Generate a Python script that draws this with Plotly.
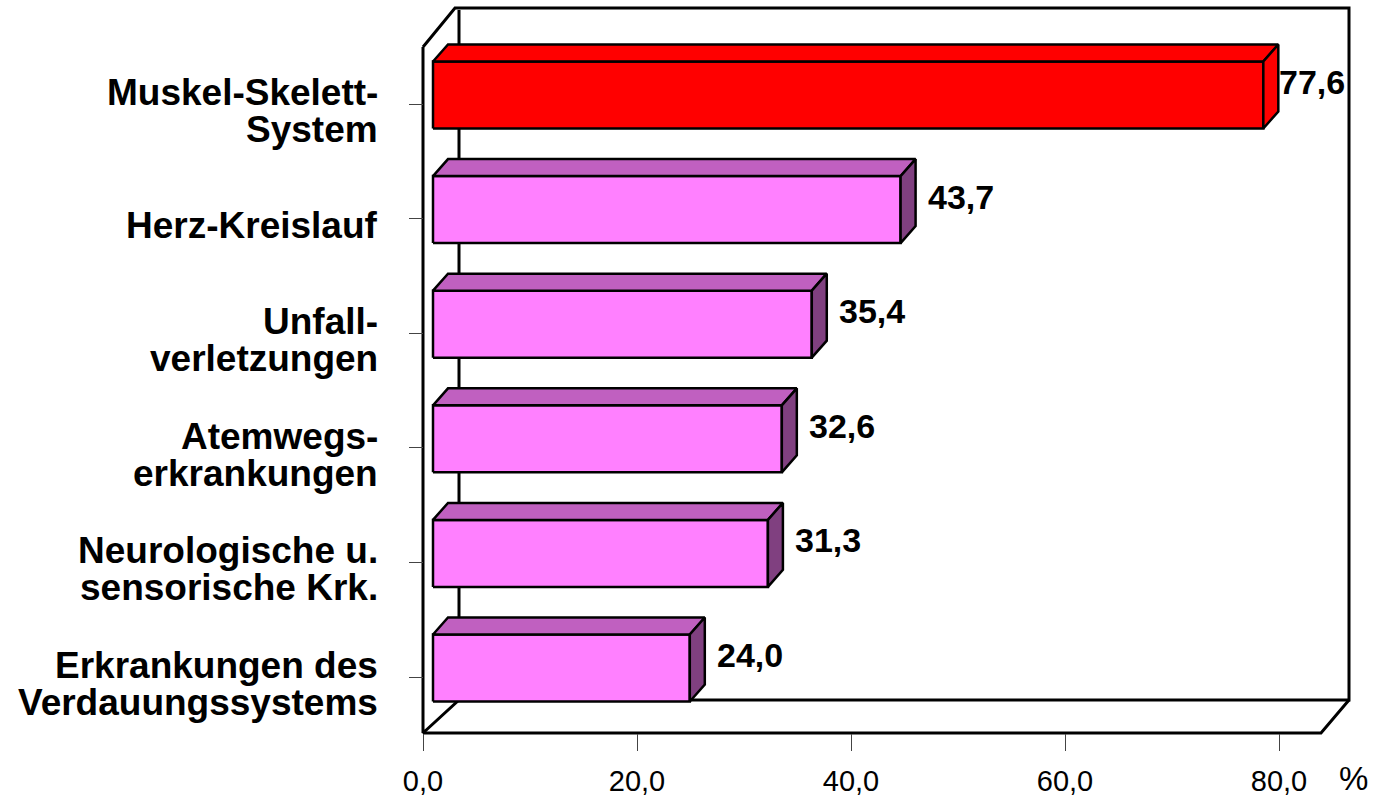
import plotly.graph_objects as go

# ---------------- data ----------------
categories = [
    ["Erkrankungen des", "Verdauungssystems"],
    ["Neurologische u.", "sensorische Krk."],
    ["Atemwegs-", "erkrankungen"],
    ["Unfall-", "verletzungen"],
    ["Herz-Kreislauf"],
    ["Muskel-Skelett-", "System"],
]
values = [24.0, 31.3, 32.6, 35.4, 43.7, 77.6]
highlight = [False, False, False, False, False, True]
x_ticks = [0, 20, 40, 60, 80]
unit_label = "%"

# ---------------- layout geometry ----------------
W, H = 1389, 797
L, R, T, B = 400, 9, 0, 47
PW, PH = W - L - R, H - T - B
SX = 10.7        # px per % unit
X0PX = 423       # px position of value 0 (front plane)
SY = 114.6       # px per category step
Y0PX = 677       # px position of first category tick

def px2x(px):
    return (px - X0PX) / SX

def px2y(py):
    return (Y0PX - py) / SY

def xpaper(px):
    return (px - L) / PW

def ypaper(py):
    return (T + PH - py) / PH

xrange_ = [px2x(L), px2x(L + PW)]
yrange_ = [px2y(T + PH), px2y(T)]

# bar geometry (pixels)
BAR_DX = 10      # front face shift right
BAR_DY = 9       # front face shift up
BAR_HALF = 33.5  # half height of front face
DEP_X, DEP_Y = 15, 17  # bar depth offset

colors_pink = dict(front="#FF80FF", top="#C060C0", side="#804080")
colors_red = dict(front="#FF0000", top="#FF0000", side="#FF0000")

fig = go.Figure()

def add_line(pts, width=3, color="black"):
    fig.add_trace(go.Scatter(
        x=[px2x(p[0]) for p in pts], y=[px2y(p[1]) for p in pts],
        mode="lines", line=dict(color=color, width=width),
        hoverinfo="skip", showlegend=False))

# frame (3D box)
FL, FR = (423, 733), (1321, 733)
BL, BR = (459, 700), (1349, 700)
BLT, BRT = (459, 10), (1349, 8)
FLT = (423, 47)
add_line([BL, BLT])
add_line([FLT, (455, 8), BRT, BR, BL, FL, FLT])
add_line([FL, FR, BR])

def add_poly(xs, ys, fill):
    fig.add_trace(go.Scatter(
        x=xs + [xs[0]], y=ys + [ys[0]], mode="lines", fill="toself",
        fillcolor=fill, line=dict(color="black", width=2.5),
        hoverinfo="skip", showlegend=False))

ddx = DEP_X / SX
ddy = DEP_Y / SY
for i, (v, hl) in enumerate(zip(values, highlight)):
    c = colors_red if hl else colors_pink
    x0 = BAR_DX / SX
    x1 = v + BAR_DX / SX
    yc = i + BAR_DY / SY
    yb = yc - BAR_HALF / SY
    yt = yc + BAR_HALF / SY
    # front
    add_poly([x0, x1, x1, x0], [yb, yb, yt, yt], c["front"])
    # top
    add_poly([x0, x1, x1 + ddx, x0 + ddx], [yt, yt, yt + ddy, yt + ddy], c["top"])
    # side
    add_poly([x1, x1 + ddx, x1 + ddx, x1], [yb, yb + ddy, yt + ddy, yt], c["side"])

annotations = []
FONT = "Liberation Sans, Arial, sans-serif"
WALL_PX = BR[0]
VAL_SIZE = 34
# value labels
for i, v in enumerate(values):
    txt = f"{v:.1f}".replace(".", ",")
    end_px = X0PX + BAR_DX + v * SX
    est_w = VAL_SIZE * (0.556 * (len(txt) - 1) + 0.278)
    lab_px = end_px + 25
    if lab_px + est_w > WALL_PX - 3:
        annotations.append(dict(x=xpaper(WALL_PX - 2), xref="paper", xanchor="right",
                                y=i, yref="y", yshift=22, yanchor="middle",
                                text=txt, showarrow=False,
                                font=dict(size=VAL_SIZE, family=FONT, color="black", weight="bold")))
    else:
        annotations.append(dict(x=v, xref="x", xanchor="left", xshift=BAR_DX + 25,
                                y=i, yref="y", yshift=22, yanchor="middle",
                                text=txt, showarrow=False,
                                font=dict(size=VAL_SIZE, family=FONT, color="black", weight="bold")))

# category labels (line by line for tight spacing)
LINE_SP = 37
for i, lines in enumerate(categories):
    n = len(lines)
    for k, line in enumerate(lines):
        ys = -7 - (k - (n - 1) / 2) * LINE_SP
        annotations.append(dict(x=xpaper(380), xref="paper", xanchor="right",
                                y=i, yref="y", yshift=ys, yanchor="middle",
                                text=line, showarrow=False,
                                font=dict(size=37, family=FONT, color="black", weight="bold")))

annotations.append(dict(x=xpaper(1353), xref="paper", xanchor="center",
                        y=ypaper(778), yref="paper", yanchor="middle",
                        text=unit_label, showarrow=False, borderpad=0,
                        font=dict(size=33, family=FONT, color="black")))

fig.update_layout(
    width=W, height=H,
    margin=dict(l=L, r=R, t=T, b=B, pad=0),
    paper_bgcolor="white", plot_bgcolor="white",
    separators=", ",
    showlegend=False,
    annotations=annotations,
    xaxis=dict(range=xrange_, anchor="free", position=ypaper(733),
               showgrid=False, zeroline=False, showline=False,
               tickmode="array", tickvals=x_ticks, tickformat=".1f",
               ticks="outside", ticklen=17, tickwidth=1, tickcolor="#444",
               ticklabelstandoff=5,
               tickfont=dict(size=29, family=FONT, color="black"),
               fixedrange=True),
    yaxis=dict(range=yrange_, anchor="free", position=xpaper(423),
               showgrid=False, zeroline=False, showline=False,
               tickmode="array", tickvals=list(range(len(categories))),
               showticklabels=False,
               ticks="outside", ticklen=14, tickwidth=1, tickcolor="#444",
               fixedrange=True),
)

fig.write_html("out.html")
